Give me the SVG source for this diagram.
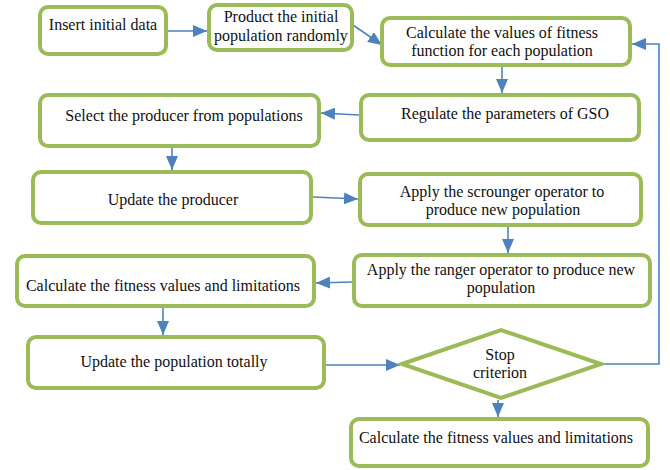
<svg xmlns="http://www.w3.org/2000/svg" width="670" height="470" viewBox="0 0 670 470">
<style>
.box{fill:#fff;stroke:#9BBB59;stroke-width:4;}
.t{font-family:"Liberation Serif","Times New Roman",serif;font-size:16px;fill:#111;text-anchor:middle;}
.c{fill:none;stroke:#4F81BD;stroke-width:1.6;}
</style>
<defs>
<marker id="ah" markerUnits="userSpaceOnUse" markerWidth="14" markerHeight="12" refX="14" refY="6" orient="auto">
<path d="M0,0 L14,6 L0,12 z" fill="#4F81BD"/>
</marker>
</defs>
<rect width="670" height="470" fill="#fff"/>
<g id="connectors">
<path class="c" d="M168,31 L207,31" marker-end="url(#ah)"/>
<path class="c" d="M353,25 L382,45" marker-end="url(#ah)"/>
<path class="c" d="M502,67 L502,93" marker-end="url(#ah)"/>
<path class="c" d="M359,115 L321,113" marker-end="url(#ah)"/>
<path class="c" d="M172,148 L172,170" marker-end="url(#ah)"/>
<path class="c" d="M313,197 L358,199" marker-end="url(#ah)"/>
<path class="c" d="M508,227 L508,253" marker-end="url(#ah)"/>
<path class="c" d="M352,282 L316,283" marker-end="url(#ah)"/>
<path class="c" d="M163,308 L163,335" marker-end="url(#ah)"/>
<path class="c" d="M326,365 L400,365" marker-end="url(#ah)"/>
<path class="c" d="M498,400 L498,417" marker-end="url(#ah)"/>
<path class="c" d="M603,364 L659,364 L659,44 L632,44" marker-end="url(#ah)"/>
</g>
<g id="n1"><rect class="box" x="40" y="7" width="126" height="47" rx="8"/><text class="t" x="103" y="30">Insert initial data</text></g>
<g id="n2"><rect class="box" x="209" y="5" width="143" height="45" rx="8"/><text class="t" x="281" y="22">Product the initial</text><text class="t" x="281" y="41">population randomly</text></g>
<g id="n3"><rect class="box" x="382" y="18" width="248" height="47" rx="8"/><text class="t" x="502" y="38">Calculate the values of fitness</text><text class="t" x="502" y="56">function for each population</text></g>
<g id="n4"><rect class="box" x="361" y="95" width="278" height="45" rx="8"/><text class="t" x="505" y="119">Regulate the parameters of GSO</text></g>
<g id="n5"><rect class="box" x="40" y="95" width="279" height="51" rx="8"/><text class="t" x="184" y="121">Select the producer from populations</text></g>
<g id="n6"><rect class="box" x="33" y="172" width="278" height="51" rx="8"/><text class="t" x="173" y="205">Update the producer</text></g>
<g id="n7"><rect class="box" x="360" y="174" width="281" height="51" rx="8"/><text class="t" x="502" y="197">Apply the scrounger operator to</text><text class="t" x="503" y="215">produce new population</text></g>
<g id="n8"><rect class="box" x="354" y="255" width="296" height="51" rx="8"/><text class="t" x="501" y="275">Apply the ranger operator to produce new</text><text class="t" x="501" y="293">population</text></g>
<g id="n9"><rect class="box" x="17" y="256" width="297" height="50" rx="8"/><text class="t" x="163" y="291">Calculate the fitness values and limitations</text></g>
<g id="n10"><rect class="box" x="28" y="337" width="296" height="51" rx="8"/><text class="t" x="174" y="367">Update the population totally</text></g>
<g id="n11"><polygon class="box" points="402,364 501,330 601,364 501,398"/><text class="t" x="500" y="360">Stop</text><text class="t" x="500" y="378">criterion</text></g>
<g id="n12"><rect class="box" x="351" y="419" width="297" height="47" rx="8"/><text class="t" x="496" y="443">Calculate the fitness values and limitations</text></g>
</svg>
